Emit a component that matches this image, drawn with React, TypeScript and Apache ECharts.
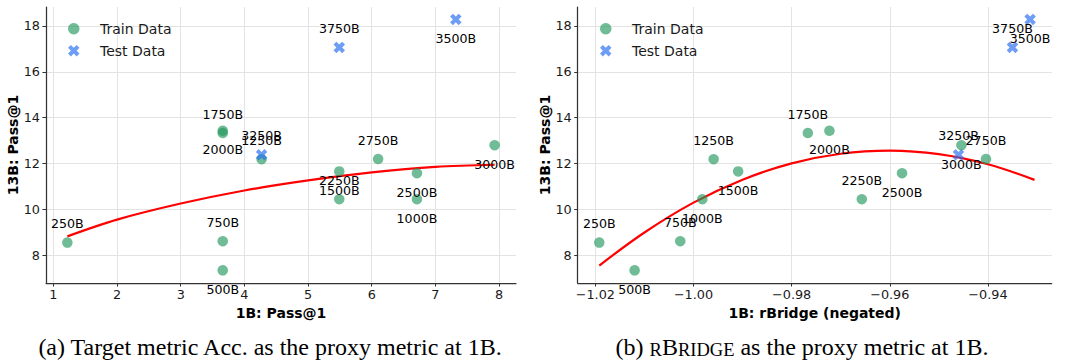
import React, { useEffect, useRef } from "react";
import * as echarts from "echarts";

// ---- data ----
const labels = [
  "250B", "500B", "750B", "1000B", "1250B", "1500B", "1750B", "2000B",
  "2250B", "2500B", "2750B", "3000B", "3250B", "3500B", "3750B",
];
const trainCount = 12; // first 12 are train, last 3 are test

// 1B Pass@1 (x of panel a)
const passX = [1.22, 3.66, 3.66, 6.71, 4.27, 5.49, 3.66, 3.66, 5.49, 6.71, 6.10, 7.93, 4.27, 7.32, 5.49];
// 1B rBridge negated (x of panel b)
const rbridgeX = [
  -1.0192, -1.012, -1.0027, -0.9982, -0.9959, -0.9909, -0.9767, -0.9723,
  -0.9657, -0.9575, -0.9404, -0.9454, -0.946, -0.9314, -0.935,
];
// 13B Pass@1 (y of both panels)
const y13 = [8.56, 7.35, 8.62, 10.45, 12.19, 11.66, 13.33, 13.43, 10.45, 11.58, 12.2, 12.8, 12.38, 18.28, 17.06];

// fitted curves
const fitPassX = [1.22, 2, 3, 4, 5, 6, 7, 7.93];
const fitPassY = [8.83, 9.56, 10.26, 10.83, 11.27, 11.62, 11.86, 11.95];
const fitRbX = [-1.0192, -1.01, -1.0, -0.99, -0.98, -0.97, -0.96, -0.95, -0.94, -0.9305];
const fitRbY = [7.56, 9.0, 10.3, 11.3, 12.01, 12.43, 12.565, 12.41, 11.97, 11.29];

const legendNames = ["Train Data", "Test Data"];
const xNames = ["1B: Pass@1", "1B: rBridge (negated)"];
const yName = "13B: Pass@1";

const FONT = "'DejaVu Sans', sans-serif";
const SERIF = "'Liberation Serif', 'Times New Roman', serif";
const GREEN = "rgba(30,150,90,0.8)";
const BLUE = "rgba(40,110,240,0.85)";
const XPATH =
  "path://M2.5,0 L5,2.5 L7.5,0 L10,2.5 L7.5,5 L10,7.5 L7.5,10 L5,7.5 L2.5,10 L0,7.5 L2.5,5 L0,2.5 Z";

function points(xs: number[], from: number, to: number) {
  return labels.slice(from, to).map((name, k) => {
    const i = from + k;
    return {
      name,
      value: [xs[i], y13[i]],
      label: { offset: [0, i % 2 === 0 ? -19 : 19] },
    };
  });
}

const AX = "#1a1a1a";

function xAxis(gridIndex: number, min: number, max: number, splitNumber: number, name: string, fmt?: (v: number) => string) {
  return {
    type: "value",
    gridIndex,
    min,
    max,
    splitNumber,
    name,
    nameLocation: "middle",
    nameGap: 21,
    nameTextStyle: { fontFamily: FONT, fontSize: 14, fontWeight: "bold", color: "#000" },
    axisLine: { show: true, onZero: false, lineStyle: { color: "#333", width: 1.25 } },
    axisTick: { show: true, length: 3.5, lineStyle: { color: "#333", width: 1 } },
    axisLabel: {
      color: AX,
      fontFamily: FONT,
      fontSize: 12.8,
      margin: 5,
      showMinLabel: false,
      showMaxLabel: false,
      formatter: fmt,
    },
    splitLine: { show: true, showMinLine: false, showMaxLine: false, lineStyle: { color: "#e3e3e3", width: 1 } },
  };
}

function yAxis(gridIndex: number) {
  return {
    type: "value",
    gridIndex,
    min: 6.8,
    max: 18.82,
    splitNumber: 6,
    name: yName,
    nameLocation: "middle",
    nameGap: 25,
    nameTextStyle: { fontFamily: FONT, fontSize: 14, fontWeight: "bold", color: "#000" },
    axisLine: { show: true, onZero: false, lineStyle: { color: "#333", width: 1.25 } },
    axisTick: { show: true, length: 3.5, lineStyle: { color: "#333", width: 1 } },
    axisLabel: {
      color: AX,
      fontFamily: FONT,
      fontSize: 12.8,
      margin: 6,
      showMinLabel: false,
      showMaxLabel: false,
    },
    splitLine: { show: true, showMinLine: false, showMaxLine: false, lineStyle: { color: "#e3e3e3", width: 1 } },
  };
}

const labelStyle = {
  show: true,
  position: "inside",
  formatter: "{b}",
  color: "#000",
  opacity: 1,
  fontFamily: FONT,
  fontSize: 12.6,
  textBorderWidth: 0,
};

function panelSeries(idx: number, xs: number[], fx: number[], fy: number[]) {
  return [
    {
      type: "line",
      xAxisIndex: idx,
      yAxisIndex: idx,
      data: fx.map((x, i) => [x, fy[i]]),
      smooth: 0.35,
      symbol: "none",
      lineStyle: { color: "#ff0000", width: 2.2 },
      z: 1,
      silent: true,
    },
    {
      type: "scatter",
      name: legendNames[0],
      xAxisIndex: idx,
      yAxisIndex: idx,
      symbol: "circle",
      symbolSize: 10.5,
      itemStyle: { color: GREEN },
      data: points(xs, 0, trainCount),
      label: labelStyle,
      z: 3,
      silent: true,
    },
    {
      type: "scatter",
      name: legendNames[1],
      xAxisIndex: idx,
      yAxisIndex: idx,
      symbol: XPATH,
      symbolSize: 11.5,
      itemStyle: { color: BLUE },
      data: points(xs, trainCount, labels.length),
      label: labelStyle,
      z: 4,
      silent: true,
    },
  ];
}

function legend(left: number) {
  return {
    orient: "vertical",
    left,
    top: 21.7,
    padding: 0,
    itemWidth: 11.5,
    itemHeight: 11.5,
    itemGap: 8,
    data: legendNames,
    textStyle: { fontFamily: FONT, fontSize: 14, color: "#1a1a1a", padding: [0, 0, 0, 15.5] },
    selectedMode: false,
  };
}

const minus = (v: number) => v.toFixed(2).replace("-", "\u2212");

export default function App() {
  const ref = useRef<HTMLDivElement>(null);
  useEffect(() => {
    document.body.style.margin = "0";
    const chart = echarts.init(ref.current!, null, { renderer: "svg" });
    const option: any = {
      animation: false,
      backgroundColor: "#ffffff",
      grid: [
        { left: 46, top: 7, width: 470, height: 276, containLabel: false, outerBoundsMode: "none" },
        { left: 577.7, top: 7, width: 474, height: 276, containLabel: false, outerBoundsMode: "none" },
      ],
      legend: [legend(68), legend(600)],
      xAxis: [
        xAxis(0, 0.8845, 8.2655, 7, xNames[0]),
        xAxis(1, -1.0236, -0.927, 5, xNames[1], minus),
      ],
      yAxis: [yAxis(0), yAxis(1)],
      series: [
        ...panelSeries(0, passX, fitPassX, fitPassY),
        ...panelSeries(1, rbridgeX, fitRbX, fitRbY),
      ],
      graphic: [
        {
          type: "text",
          x: 270,
          y: 347,
          style: {
            text: "(a) Target metric Acc. as the proxy metric at 1B.",
            fontFamily: SERIF,
            fontSize: 24,
            fill: "#000",
            textAlign: "center",
            textVerticalAlign: "middle",
          },
        },
        {
          type: "text",
          x: 802,
          y: 347,
          style: {
            text: "{n|(b) }{sc|R}{n|B}{sc|RIDGE}{n| as the proxy metric at 1B.}",
            fontFamily: SERIF,
            fontSize: 24,
            fill: "#000",
            textAlign: "center",
            textVerticalAlign: "middle",
            rich: {
              n: { fontFamily: SERIF, fontSize: 24, lineHeight: 24, verticalAlign: "bottom", fill: "#000" },
              sc: { fontFamily: SERIF, fontSize: 18.5, lineHeight: 18.5, verticalAlign: "bottom", fill: "#000" },
            },
          },
        },
      ],
    };
    chart.setOption(option);
    return () => chart.dispose();
  }, []);
  return <div ref={ref} style={{ width: 1065, height: 362 }} />;
}
